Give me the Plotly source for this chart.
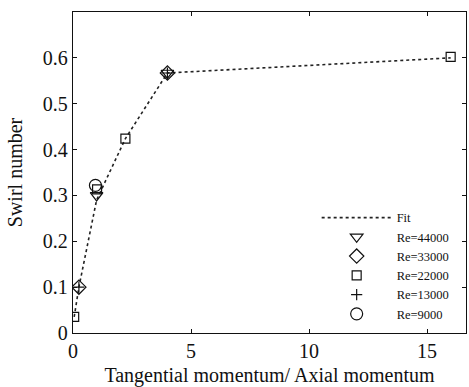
import plotly.graph_objects as go

# Fit curve through the measured points
fit_x = [0.05, 0.25, 1.0, 2.22, 4.0, 16.0]
fit_y = [0.035, 0.10, 0.29, 0.424, 0.567, 0.60]

# Measurements grouped by Reynolds number
re44000_x = [1.0, 4.0]
re44000_y = [0.300, 0.567]
re33000_x = [0.25, 4.0]
re33000_y = [0.100, 0.567]
re22000_x = [0.05, 1.02, 2.22, 16.0]
re22000_y = [0.035, 0.313, 0.424, 0.602]
re13000_x = [0.25, 4.0]
re13000_y = [0.100, 0.567]
re9000_x = [0.95]
re9000_y = [0.322]

x_ticks = [0, 5, 10, 15]
y_ticks = [0, 0.1, 0.2, 0.3, 0.4, 0.5, 0.6]

FONT = "Liberation Serif"
INK = "#111111"

fig = go.Figure()
fig.add_trace(go.Scatter(x=fit_x, y=fit_y, mode="lines", name="Fit",
                         line=dict(color="#222222", width=1.6, dash="dot")))


def marker_trace(xs, ys, name, symbol, size):
    return go.Scatter(x=xs, y=ys, mode="markers", name=name,
                      marker=dict(symbol=symbol, size=size, color=INK,
                                  line=dict(color=INK, width=1.2)))


fig.add_trace(marker_trace(re44000_x, re44000_y, "Re=44000", "triangle-down-open", 11))
fig.add_trace(marker_trace(re33000_x, re33000_y, "Re=33000", "diamond-open", 11))
fig.add_trace(marker_trace(re22000_x, re22000_y, "Re=22000", "square-open", 9))
fig.add_trace(marker_trace(re13000_x, re13000_y, "Re=13000", "cross-thin-open", 8))
fig.add_trace(marker_trace(re9000_x, re9000_y, "Re=9000", "circle-open", 12))

axis_common = dict(showgrid=False, zeroline=False, showline=True, linecolor=INK,
                   linewidth=1.3, mirror="ticks", ticks="inside", ticklen=4,
                   tickcolor=INK, tickwidth=1.2,
                   tickfont=dict(family=FONT, size=20, color=INK),
                   title_font=dict(family=FONT, size=20, color=INK))

fig.update_xaxes(range=[0, 16.65], tickvals=x_ticks,
                 ticktext=[str(v) for v in x_ticks],
                 title_text="Tangential momentum/ Axial momentum", title_standoff=8,
                 **axis_common)
fig.update_yaxes(range=[0, 0.7], tickvals=y_ticks,
                 ticktext=["0" if v == 0 else f"{v:.1f}" for v in y_ticks],
                 title_text="Swirl number", title_standoff=14,
                 **axis_common)

fig.update_layout(
    width=469, height=387,
    margin=dict(l=73, r=3, t=12, b=54),
    paper_bgcolor="white", plot_bgcolor="white",
    font=dict(family=FONT, color=INK),
    legend=dict(x=0.62, y=0.405, xanchor="left", yanchor="top",
                bgcolor="rgba(0,0,0,0)", borderwidth=0,
                font=dict(family=FONT, size=12.5, color=INK),
                itemwidth=70, tracegroupgap=0),
)

fig.write_html("out.html")
